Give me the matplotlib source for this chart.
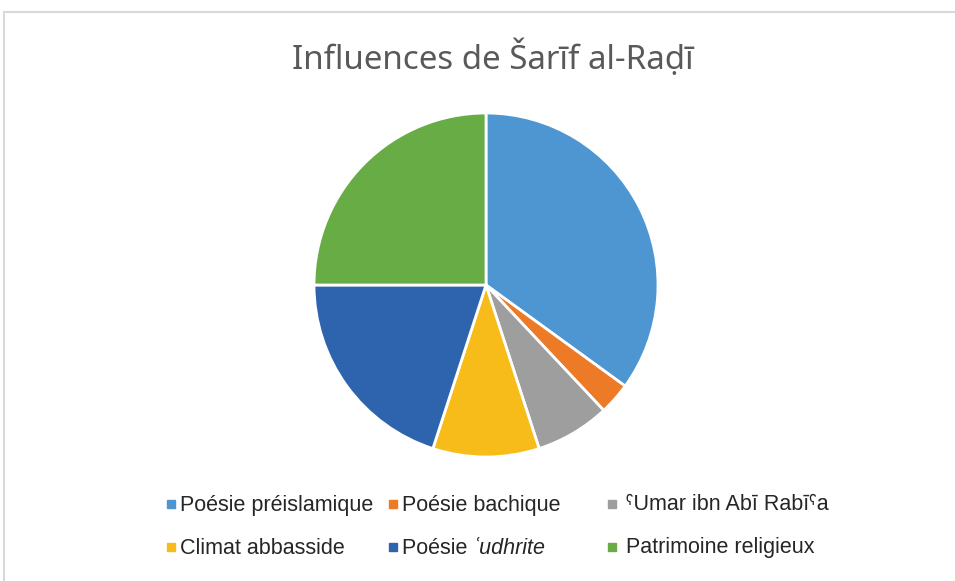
import matplotlib
matplotlib.use("Agg")
import matplotlib.pyplot as plt
from matplotlib.lines import Line2D
from matplotlib.patches import Rectangle

labels = ["Poésie préislamique", "Poésie bachique", "ˁUmar ibn Abī Rabīˁa",
          "Climat abbasside", "Poésie ʿudhrite", "Patrimoine religieux"]
values = [35, 3, 7, 10, 20, 25]
colors = ["#4E96D2", "#EC7A27", "#9E9E9E", "#F8BC1A", "#2E64AE", "#67AC45"]

W, H = 955, 581
fig = plt.figure(figsize=(W / 100, H / 100), dpi=100)

# frame lines (top and left only)
fig.add_artist(Line2D([4 / W, 1], [1 - 12 / H, 1 - 12 / H], color="#D9D9D9", lw=1.5))
fig.add_artist(Line2D([4 / W, 4 / W], [1 - 12 / H, 0], color="#D9D9D9", lw=1.5))

# pie: center (486,285), radius 172 px
r = 172
ax = fig.add_axes([(486 - r) / W, 1 - (285 + r) / H, 2 * r / W, 2 * r / H])
ax.pie(values, colors=colors, startangle=90, counterclock=False,
       wedgeprops=dict(edgecolor="white", linewidth=2))
ax.set_aspect("equal")
ax.set_xlim(-1, 1)
ax.set_ylim(-1, 1)

fig.text(493 / W, 1 - 58 / H, "Influences de Šarīf al-Raḍī", ha="center", va="center",
         fontsize=23.8, color="#595959", family=["Noto Sans", "DejaVu Sans"])

# legend, 3 columns x 2 rows
fs = 15.5
col_x = [171, 393, 612]
row_y = [505, 548]
for i, lab in enumerate(labels):
    x = col_x[i % 3]
    y = row_y[i // 3]
    fig.add_artist(Rectangle(((x - 4) / W, 1 - (y + 3) / H), 8 / W, 8 / H,
                             transform=fig.transFigure, color=colors[i]))
    if i == 4:
        t = fig.text((x + 9) / W, 1 - y / H, "Poésie ", ha="left", va="center",
                     fontsize=fs, color="#262626", family="Liberation Sans")
        fig.canvas.draw()
        bb = t.get_window_extent()
        fig.text(bb.x1 / W, 1 - y / H, "ʿudhrite", ha="left", va="center",
                 fontsize=fs, color="#262626", family="Liberation Sans", style="italic")
    else:
        dx = 14 if i in (2, 5) else 9
        fig.text((x + dx) / W, 1 - y / H, lab, ha="left", va="center",
                 fontsize=fs, color="#262626", family=["Liberation Sans", "DejaVu Sans"])

fig.savefig("out.png", dpi=100, facecolor="white")
